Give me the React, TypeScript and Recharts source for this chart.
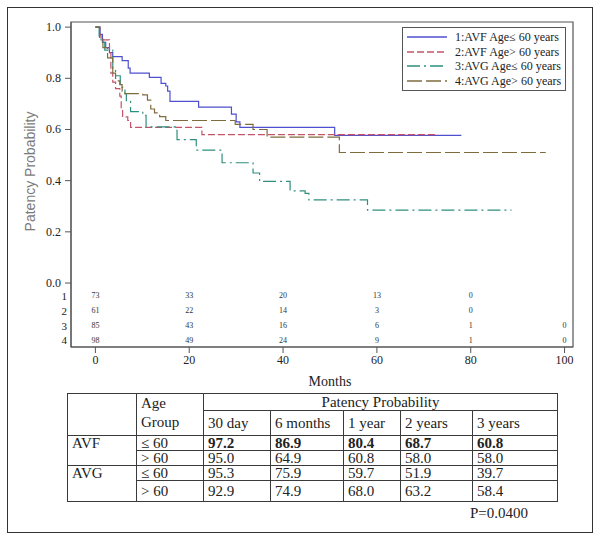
import React from "react";
import {
  ComposedChart,
  Line,
  Scatter,
  XAxis,
  YAxis,
  ReferenceArea,
  Label,
} from "recharts";

// Kaplan-Meier steps: [month, patency probability]
const avfYoung = [
  [0, 1], [1.0, 0.972], [1.5, 0.94], [2.2, 0.92], [3.0, 0.9], [3.7, 0.885],
  [5.7, 0.869], [7.0, 0.84], [7.4, 0.82], [11.5, 0.804], [14.0, 0.78],
  [15.0, 0.77], [15.4, 0.75], [15.9, 0.71], [22.0, 0.687], [29.0, 0.66],
  [30.0, 0.63], [30.8, 0.608], [51.0, 0.577], [78.0, 0.577],
];
const avfOld = [
  [0, 1], [0.9, 0.97], [1.2, 0.95], [3.0, 0.9], [3.3, 0.82], [3.7, 0.785],
  [4.3, 0.76], [5.2, 0.73], [5.5, 0.68], [5.8, 0.649], [6.9, 0.635],
  [7.5, 0.608], [22.7, 0.58], [73.0, 0.58],
];
const avgYoung = [
  [0, 1], [0.8, 0.965], [1.2, 0.94], [2.0, 0.91], [3.7, 0.83], [4.3, 0.81],
  [5.3, 0.765], [6.3, 0.74], [6.6, 0.71], [7.5, 0.67], [10.1, 0.655],
  [10.8, 0.61], [17.0, 0.597], [17.4, 0.56], [21.5, 0.519], [27.0, 0.47],
  [33.6, 0.43], [35.0, 0.397], [41.5, 0.36], [44.7, 0.35], [45.5, 0.325],
  [58.0, 0.285], [88.7, 0.285],
];
const avgOld = [
  [0, 1], [0.9, 0.96], [1.6, 0.92], [2.6, 0.88], [3.7, 0.82], [4.3, 0.79],
  [5.2, 0.775], [5.7, 0.749], [6.3, 0.74], [10.1, 0.735], [11.1, 0.715],
  [11.8, 0.68], [12.6, 0.665], [13.7, 0.65], [15.0, 0.635], [29.8, 0.62],
  [33.6, 0.6], [36.6, 0.57], [52.0, 0.51], [96.0, 0.51],
];

const seriesNames = [
  "1:AVF Age\u2264 60 years",
  "2:AVF Age> 60 years",
  "3:AVG Age\u2264 60 years",
  "4:AVG Age> 60 years",
];
const seriesColors = ["#4f4fcf", "#c25468", "#2f8f7f", "#7f6c3e"];
const seriesDashes = ["", "7 3", "13 4 2 4", "15 4"];

// number at risk
const riskTimes = [0, 20, 40, 60, 80, 100];
const riskCounts = [
  [73, 33, 20, 13, 0, null],
  [61, 22, 14, 3, 0, null],
  [85, 43, 16, 6, 1, 0],
  [98, 49, 24, 9, 1, 0],
];

const xTicks = [0, 20, 40, 60, 80, 100];
const yTicks = [0, 0.2, 0.4, 0.6, 0.8, 1.0];

// table
const periods = ["30 day", "6 months", "1 year", "2 years", "3 years"];
const accessTypes = ["AVF", "", "AVG", ""];
const ageGroups = ["\u2264 60", "> 60", "\u2264 60", "> 60"];
const patency = [
  ["97.2", "86.9", "80.4", "68.7", "60.8"],
  ["95.0", "64.9", "60.8", "58.0", "58.0"],
  ["95.3", "75.9", "59.7", "51.9", "39.7"],
  ["92.9", "74.9", "68.0", "63.2", "58.4"],
];
const pValue = "P=0.0400";

const curves = [avfYoung, avfOld, avgYoung, avgOld];
const rowY = (i: number) => -0.05 - i * 0.058;
const serif = '"Liberation Serif", "Times New Roman", serif';

function YTick(props: any) {
  const { x, y, payload } = props;
  const v = payload.value as number;
  if (v >= 0) {
    return (
      <g>
        <line x1={x - 6} x2={x} y1={y} y2={y} stroke="#555" />
        <text x={x - 10} y={y} textAnchor="end" dominantBaseline="central"
          fontSize={12} fontFamily={serif} fill="#222">
          {v.toFixed(1)}
        </text>
      </g>
    );
  }
  const idx = Math.round((-0.05 - v) / 0.058);
  return (
    <text x={x - 4} y={y} textAnchor="end" dominantBaseline="central"
      fontSize={11} fontFamily={serif} fill="#222">
      {idx + 1}
    </text>
  );
}

function YLabel(props: any) {
  const vb = props.viewBox ?? { x: 0, y: 22, width: 71, height: 325 };
  const x = vb.x + 30;
  const y = vb.y + vb.height * 0.46;
  return (
    <text x={x} y={y} transform={`rotate(-90 ${x} ${y})`} textAnchor="middle"
      dominantBaseline="central" fontSize={14} fill="#7a7a7a"
      fontFamily='"Liberation Sans", Arial, sans-serif'>
      Patency Probability
    </text>
  );
}

function LegendBox() {
  return (
    <div style={{ position: "absolute", left: 402, top: 27, width: 164,
      boxSizing: "border-box", border: "1px solid #555", background: "#fff",
      padding: "2px 0 2px 3px", fontFamily: serif, fontSize: 12, color: "#222",
      lineHeight: "14.5px" }}>
      {seriesNames.map((n, i) => (
        <div key={n} style={{ display: "flex", alignItems: "center", whiteSpace: "nowrap" }}>
          <svg width={44} height={10} style={{ marginRight: 5 }}>
            <line x1={1} x2={41} y1={5} y2={5} stroke={seriesColors[i]}
              strokeWidth={1.3} strokeDasharray={seriesDashes[i]} />
          </svg>
          {n}
        </div>
      ))}
    </div>
  );
}

function RiskText(props: any) {
  const { cx, cy, payload } = props;
  return (
    <text x={cx} y={cy} textAnchor="middle" dominantBaseline="central"
      fontSize={8} fontFamily={serif} fill="#333">
      {payload.n}
    </text>
  );
}

const cell: React.CSSProperties = {
  border: "1px solid #3a3a3a",
  padding: "0 4px",
  textAlign: "left",
  verticalAlign: "middle",
  lineHeight: "14px",
};

export default function App() {
  const allYTicks = [...riskCounts.map((_, i) => rowY(i)), ...yTicks];
  return (
    <div style={{ position: "absolute", left: 0, top: 0, width: 602, height: 542, background: "#fff" }}>
      <div style={{ position: "absolute", left: 7, top: 7, width: 586, height: 526,
        border: "1.5px solid #333", boxSizing: "border-box" }} />
      <div style={{ position: "absolute", left: 0, top: 0 }}>
        <ComposedChart width={602} height={400} margin={{ top: 22, right: 29, bottom: 13, left: 0 }}>
          <XAxis type="number" dataKey="x" domain={[-5.2, 101.8]} ticks={xTicks}
            allowDataOverflow height={40} stroke="#555"
            tick={{ fontSize: 12, fill: "#222", fontFamily: serif }}>
            <Label value="Months" position="insideBottom" offset={1} dx={8}
              style={{ fontSize: 14, fill: "#222", fontFamily: serif }} />
          </XAxis>
          <YAxis type="number" dataKey="y" domain={[-0.25, 1.02]} ticks={allYTicks}
            allowDataOverflow width={71} tickSize={0} tickMargin={0} interval={0}
            stroke="#555" tick={<YTick />}>
            <Label content={<YLabel />} />
          </YAxis>
          <ReferenceArea x1={-5.2} x2={101.8} y1={-0.25} y2={1.02} fill="none"
            stroke="#555" strokeWidth={1.2} ifOverflow="visible" />
          {curves.map((c, i) => (
            <Line key={seriesNames[i]} name={seriesNames[i]}
              data={c.map(([x, y]) => ({ x, y }))} dataKey="y" type="stepAfter"
              stroke={seriesColors[i]} strokeWidth={1.2} strokeDasharray={seriesDashes[i]}
              dot={false} activeDot={false} isAnimationActive={false} />
          ))}
          {riskCounts.map((row, r) => (
            <Scatter key={"risk" + r} dataKey="y" legendType="none"
              data={riskTimes
                .map((t, i) => ({ x: t, y: rowY(r), n: row[i] }))
                .filter((d) => d.n !== null)}
              shape={<RiskText />} isAnimationActive={false} />
          ))}
        </ComposedChart>
      </div>
      <LegendBox />
      <table style={{ position: "absolute", left: 67, top: 393, width: 490,
        borderCollapse: "collapse", tableLayout: "fixed", fontFamily: serif,
        fontSize: 15, color: "#222" }}>
        <colgroup>
          {[69, 67, 67, 73, 57, 72, 85].map((w, i) => <col key={i} style={{ width: w }} />)}
        </colgroup>
        <tbody>
          <tr style={{ height: 17 }}>
            <td rowSpan={2} style={cell} />
            <td rowSpan={2} style={{ ...cell, verticalAlign: "top", lineHeight: "19px" }}>
              Age<br />Group
            </td>
            <td colSpan={5} style={{ ...cell, textAlign: "center" }}>Patency Probability</td>
          </tr>
          <tr style={{ height: 25 }}>
            {periods.map((p) => <td key={p} style={cell}>{p}</td>)}
          </tr>
          {patency.map((vals, r) => (
            <tr key={r} style={{ height: r === 3 ? 21 : 15 }}>
              {r % 2 === 0 && (
                <td rowSpan={2} style={{ ...cell, verticalAlign: "top" }}>{accessTypes[r]}</td>
              )}
              <td style={cell}>{ageGroups[r]}</td>
              {vals.map((v, i) => (
                <td key={i} style={{ ...cell, fontWeight: r === 0 ? "bold" : "normal" }}>{v}</td>
              ))}
            </tr>
          ))}
        </tbody>
      </table>
      <div style={{ position: "absolute", left: 470, top: 505, fontFamily: serif,
        fontSize: 15, color: "#222" }}>
        {pValue}
      </div>
    </div>
  );
}
